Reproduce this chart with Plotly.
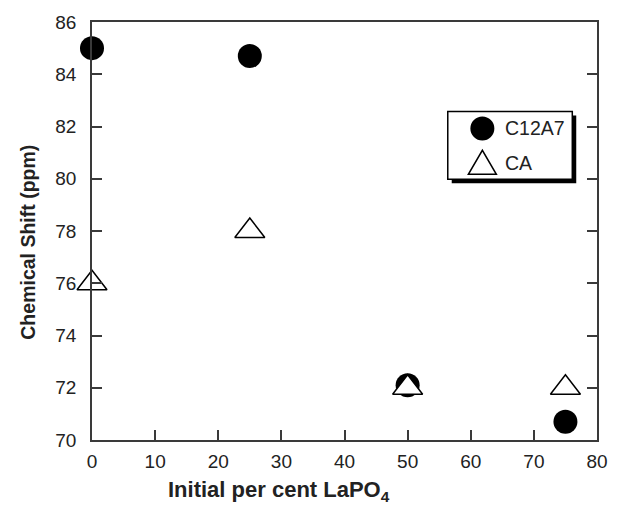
import plotly.graph_objects as go

# Data
x_c12a7 = [0, 25, 50, 75]
y_c12a7 = [85.0, 84.7, 72.1, 70.7]
x_ca = [0, 25, 50, 75]
y_ca = [76.0, 78.0, 72.0, 72.0]
x_ticks = [0, 10, 20, 30, 40, 50, 60, 70, 80]
y_ticks = [70, 72, 74, 76, 78, 80, 82, 84, 86]
series_names = ["C12A7", "CA"]

W, H = 620, 507
ML, MR, MT, MB = 92, 17, 20, 67
PW, PH = W - ML - MR, H - MT - MB

def px(xp):
    return (xp - ML) / PW

def py(yp):
    return (H - MB - yp) / PH

FONT = "Liberation Sans, Arial, sans-serif"
AXC = "#3a3a3a"

fig = go.Figure()
fig.add_trace(go.Scatter(
    x=x_c12a7, y=y_c12a7, mode="markers", name=series_names[0],
    marker=dict(symbol="circle", size=24, color="black", line=dict(width=0)),
    cliponaxis=False, showlegend=False))
fig.add_trace(go.Scatter(
    x=x_ca, y=y_ca, mode="markers", name=series_names[1],
    marker=dict(symbol="triangle-up", size=26, color="white",
                line=dict(width=1.5, color="black")),
    cliponaxis=False, showlegend=False))

fig.update_layout(
    width=W, height=H,
    margin=dict(l=ML, r=MR, t=MT, b=MB, pad=0),
    paper_bgcolor="white", plot_bgcolor="white",
    font=dict(family=FONT, size=19, color="#222"),
    showlegend=False,
)
fig.update_xaxes(
    range=[0, 80], tickvals=x_ticks, ticktext=[str(v) for v in x_ticks],
    ticks="inside", ticklen=10, tickwidth=1.5, tickcolor=AXC,
    showline=True, linecolor=AXC, linewidth=1.5, mirror=True,
    showgrid=False, zeroline=False, ticklabelstandoff=3,
)
fig.update_yaxes(
    range=[70, 86], tickvals=y_ticks, ticktext=[str(v) for v in y_ticks],
    ticks="inside", ticklen=10, tickwidth=1.5, tickcolor=AXC,
    showline=True, linecolor=AXC, linewidth=1.5, mirror="ticks",
    showgrid=False, zeroline=False, ticklabelstandoff=10,
)

# Axis titles
fig.add_annotation(
    text="<b>Initial per cent LaPO<sub>4</sub></b>", xref="paper", yref="paper",
    x=px(281), y=py(491), showarrow=False, xanchor="center", yanchor="middle",
    font=dict(family=FONT, size=22, color="#222"))
fig.add_annotation(
    text="<b>Chemical Shift (ppm)</b>", xref="paper", yref="paper",
    x=px(27), y=py(241), showarrow=False, textangle=-90,
    xanchor="center", yanchor="middle",
    font=dict(family=FONT, size=19.5, color="#222"))

# Legend box (with drop shadow)
bx0, bx1, by0, by1 = 452, 578, 110, 178
fig.add_shape(type="rect", xref="paper", yref="paper",
              x0=px(bx0 + 4), x1=px(bx1 + 4), y0=py(by1 + 4), y1=py(by0 + 4),
              fillcolor="black", line=dict(width=0), layer="above")
fig.add_shape(type="rect", xref="paper", yref="paper",
              x0=px(bx0), x1=px(bx1), y0=py(by1), y1=py(by0),
              fillcolor="white", line=dict(width=1.5, color="black"), layer="above")
# Legend symbols
cx, cy1, cy2 = 487, 127, 162
fig.add_shape(type="circle", xref="paper", yref="paper",
              xsizemode="pixel", ysizemode="pixel",
              xanchor=px(cx), yanchor=py(cy1),
              x0=-12, x1=12, y0=-12, y1=12,
              fillcolor="black", line=dict(width=0), layer="above")
fig.add_shape(type="path", xref="paper", yref="paper",
              xsizemode="pixel", ysizemode="pixel",
              xanchor=px(cx), yanchor=py(cy2),
              path="M -14,-11 L 14,-11 L 0,13 Z",
              fillcolor="white", line=dict(width=1.5, color="black"), layer="above")
for name, yy in zip(series_names, [cy1, cy2]):
    fig.add_annotation(text=name, xref="paper", yref="paper",
                       x=px(508), y=py(yy), showarrow=False,
                       xanchor="left", yanchor="middle",
                       font=dict(family=FONT, size=19.5, color="#222"))

fig.write_html("out.html")
